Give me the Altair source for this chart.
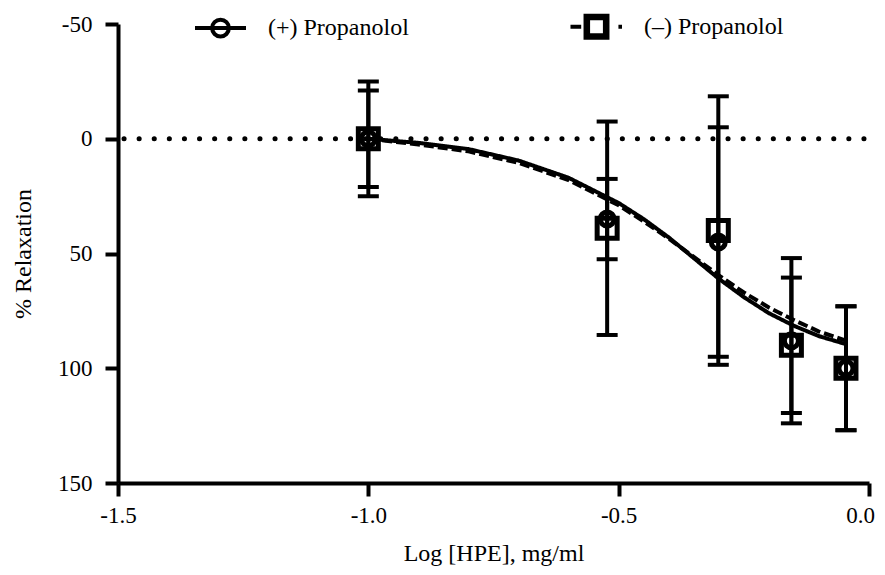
import altair as alt
import pandas as pd

# ---- data ----
series = ["(+) Propanolol", "(–) Propanolol"]
doses = [-1.0, -0.523, -0.301, -0.155, -0.046]
plus_mean = [0, 35, 45, 88, 100]
plus_sd = [25, 17.5, 50, 36, 27]
minus_mean = [0, 39, 40, 90, 100]
minus_sd = [21, 46.5, 58.5, 29.5, 27]

curve_x = [-1.0, -0.9, -0.8, -0.7, -0.6, -0.5, -0.45, -0.4, -0.35, -0.3, -0.25, -0.2, -0.15, -0.1, -0.046]
plus_curve = [0, 1.8, 4.5, 9.5, 17, 28, 35, 43, 52, 61, 69, 76, 81.5, 86, 89.5]
minus_curve = [0, 2.5, 5.5, 10.5, 18, 29, 36, 43.5, 51.5, 59.5, 67, 73.5, 79, 84, 88]

x_ticks = [-1.5, -1.0, -0.5, 0.0]
y_ticks = [-50, 0, 50, 100, 150]

# ---- tables ----
pts = pd.DataFrame(
    [{"series": series[0], "x": x, "m": m, "lo": m - s, "hi": m + s}
     for x, m, s in zip(doses, plus_mean, plus_sd)]
    + [{"series": series[1], "x": x, "m": m, "lo": m - s, "hi": m + s}
       for x, m, s in zip(doses, minus_mean, minus_sd)]
)
curves = pd.DataFrame(
    [{"series": series[0], "x": x, "y": y} for x, y in zip(curve_x, plus_curve)]
    + [{"series": series[1], "x": x, "y": y} for x, y in zip(curve_x, minus_curve)]
)
zero = pd.DataFrame({"y": [0]})

FONT = "Liberation Serif"

xs = alt.Scale(domain=[-1.5, 0.0], nice=False, zero=False)
ys = alt.Scale(domain=[-50, 150], nice=False, reverse=True)

x_axis = alt.Axis(
    values=x_ticks, title="Log [HPE], mg/ml", labelFlush=False,
    labelExpr="datum.value < 0 ? '-' + format(-datum.value, '.1f') : format(datum.value, '.1f')",
    labelOffset={"condition": {"test": "datum.value == 0", "value": -9}, "value": 0},
    labelPadding=8, titlePadding=14,
)
y_axis = alt.Axis(
    values=y_ticks, title="% Relaxation", labelFlush=False,
    labelExpr="datum.value < 0 ? '-' + format(-datum.value, 'd') : format(datum.value, 'd')",
    labelPadding=13, titlePadding=22,
)

X = alt.X("x:Q", scale=xs, axis=x_axis)

P1 = "M-1,0H1M-0.33,0A0.33,0.33 0 1,1 0.33,0A0.33,0.33 0 1,1 -0.33,0"
P2 = ("M-1.02,0H-0.6M-0.43,-0.43H0.43V0.43H-0.43Z"
      "M-0.33,-0.33H0.33V0.33H-0.33ZM0.86,0H1.0")

legend = alt.Legend(
    orient="none", legendX=75, legendY=-25, direction="horizontal", title=None,
    symbolSize=2601, symbolStrokeWidth=4, symbolStrokeColor="black",
    symbolFillColor="transparent", symbolOpacity=1,
    labelFont=FONT, labelFontSize=24, labelColor="black", labelOffset=20,
    columnPadding=153, padding=0,
)

zero_line = alt.Chart(zero).mark_rule(
    color="black", strokeWidth=5, strokeDash=[0.1, 15], strokeCap="round", strokeDashOffset=-5
).encode(y=alt.Y("y:Q", scale=ys, axis=y_axis))

lines = alt.Chart(curves).mark_line(color="black", strokeWidth=4).encode(
    x=X,
    y=alt.Y("y:Q", scale=ys, axis=y_axis),
    strokeDash=alt.StrokeDash("series:N", scale=alt.Scale(domain=series, range=[[1, 0], [10, 4]]), legend=None),
)

bars = alt.Chart(pts).mark_rule(color="black", strokeWidth=4, opacity=1).encode(
    x=X, y=alt.Y("lo:Q", scale=ys, axis=y_axis), y2="hi:Q"
)
cap_lo = alt.Chart(pts).mark_tick(color="black", orient="horizontal", thickness=4, size=21, opacity=1).encode(
    x=X, y=alt.Y("lo:Q", scale=ys, axis=y_axis)
)
cap_hi = alt.Chart(pts).mark_tick(color="black", orient="horizontal", thickness=4, size=21, opacity=1).encode(
    x=X, y=alt.Y("hi:Q", scale=ys, axis=y_axis)
)

markers = alt.Chart(pts).mark_point(filled=False, color="black", strokeWidth=5, opacity=1).encode(
    x=X,
    y=alt.Y("m:Q", scale=ys, axis=y_axis),
    shape=alt.Shape("series:N", scale=alt.Scale(domain=series, range=["circle", "square"]), legend=None),
    size=alt.Size("series:N", scale=alt.Scale(domain=series, range=[196, 400]), legend=None),
)

# invisible layer that only supplies the legend symbols
legend_layer = alt.Chart(pts).mark_point(filled=False, color="black", strokeWidth=4, opacity=0).encode(
    x=X,
    y=alt.Y("m:Q", scale=ys, axis=y_axis),
    shape=alt.Shape("series:N", scale=alt.Scale(domain=series, range=[P1, P2]), legend=legend),
)

chart = alt.layer(zero_line, lines, bars, cap_lo, cap_hi, markers, legend_layer).resolve_scale(
    shape="independent"
).properties(
    width=751, height=459,
    autosize=alt.AutoSizeParams(type="none"),
    padding={"left": 110, "top": 16, "right": 8, "bottom": 84},
).configure_view(stroke=None).configure_axis(
    grid=False, domainColor="black", domainWidth=4, tickColor="black", tickWidth=4, tickSize=13,
    labelFont=FONT, labelFontSize=23, labelColor="black",
    titleFont=FONT, titleFontSize=24, titleFontWeight="normal", titleColor="black",
)

chart.save("out.html", embed_options={"renderer": "svg", "actions": False})
